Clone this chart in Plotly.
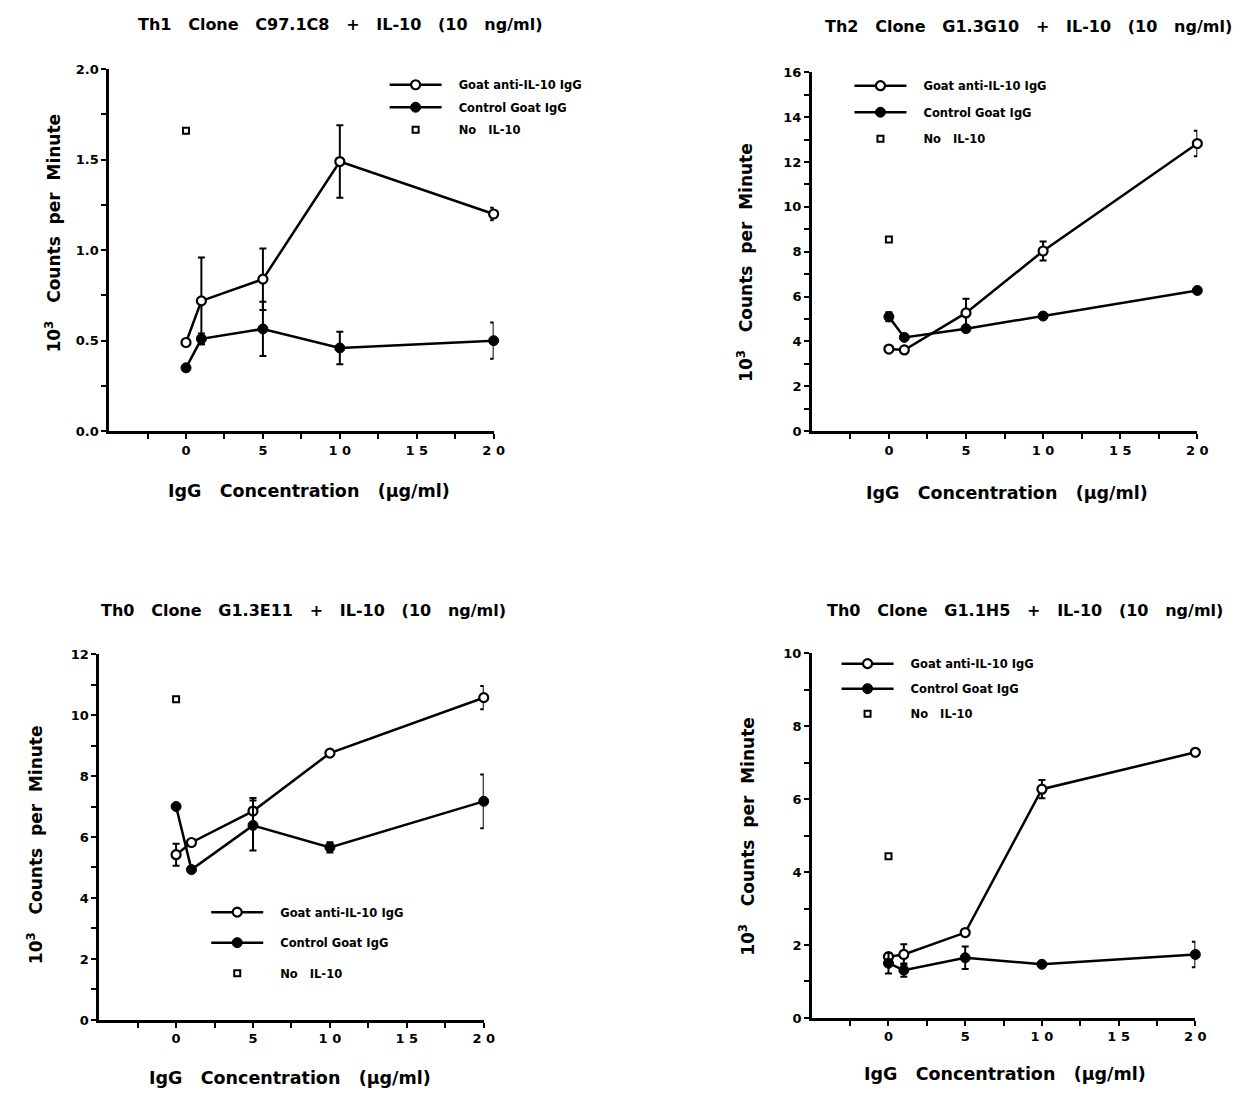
import plotly.graph_objects as go

W, H = 1252, 1103
BODY = 8  # default page margin of the html body
FW, FH = W - 2 * BODY, H - 2 * BODY  # figure size so that the page fits the window exactly

# ---------------- data ----------------
dose = [0, 1, 5, 10, 20]
no_il10_dose = [0]

th1_anti = [0.49, 0.72, 0.84, 1.49, 1.20]
th1_anti_err = [0.0, 0.24, 0.17, 0.20, 0.035]
th1_ctrl = [0.35, 0.51, 0.565, 0.46, 0.50]
th1_ctrl_err = [0.0, 0.03, 0.15, 0.09, 0.10]
th1_noil10 = [1.66]

th2_anti = [3.66, 3.62, 5.27, 8.03, 12.82]
th2_anti_err = [0.0, 0.08, 0.63, 0.42, 0.57]
th2_ctrl = [5.10, 4.18, 4.57, 5.13, 6.27]
th2_ctrl_err = [0.2, 0.1, 0.08, 0.08, 0.05]
th2_noil10 = [8.54]

e11_anti = [5.42, 5.82, 6.85, 8.75, 10.57]
e11_anti_err = [0.36, 0.08, 0.43, 0.05, 0.38]
e11_ctrl = [7.00, 4.93, 6.38, 5.66, 7.17]
e11_ctrl_err = [0.05, 0.05, 0.82, 0.17, 0.88]
e11_noil10 = [10.52]

h5_anti = [1.68, 1.74, 2.34, 6.27, 7.28]
h5_anti_err = [0.1, 0.28, 0.05, 0.25, 0.05]
h5_ctrl = [1.50, 1.31, 1.65, 1.47, 1.74]
h5_ctrl_err = [0.28, 0.18, 0.31, 0.05, 0.35]
h5_noil10 = [4.43]

titles = [
    "Th1   Clone   C97.1C8   +   IL-10   (10   ng/ml)",
    "Th2   Clone   G1.3G10   +   IL-10   (10   ng/ml)",
    "Th0   Clone   G1.3E11   +   IL-10   (10   ng/ml)",
    "Th0   Clone   G1.1H5   +   IL-10   (10   ng/ml)",
]
series_names = ["Goat anti-IL-10 IgG", "Control Goat IgG", "No   IL-10"]
x_title = "IgG   Concentration   (µg/ml)"
y_title = "10<sup>3</sup>   Counts  per  Minute"

x_tickvals = [-2.5, 0, 2.5, 5, 7.5, 10, 12.5, 15, 17.5, 20]
x_ticktext = ["", "0", "", "5", "", "1 0", "", "1 5", "", "2 0"]

y1_tickvals = [0, 0.25, 0.5, 0.75, 1.0, 1.25, 1.5, 1.75, 2.0]
y1_ticktext = ["0.0", "", "0.5", "", "1.0", "", "1.5", "", "2.0"]
y2_tickvals = list(range(0, 17))
y2_ticktext = [str(v) if v % 2 == 0 else "" for v in y2_tickvals]
y3_tickvals = list(range(0, 13))
y3_ticktext = [str(v) if v % 2 == 0 else "" for v in y3_tickvals]
y4_tickvals = list(range(0, 11))
y4_ticktext = [str(v) if v % 2 == 0 else "" for v in y4_tickvals]

# ---------------- layout geometry (page pixels) ----------------
panels = [
    dict(anti=th1_anti, anti_err=th1_anti_err, ctrl=th1_ctrl, ctrl_err=th1_ctrl_err, no=th1_noil10,
         yr=[0, 2.0], ytv=y1_tickvals, ytt=y1_ticktext,
         box=(110, 498, 63, 430), title=(343, 18), xt=(312, 491), yt=(53, 229),
         leg=(388, 64), gap=3.5),
    dict(anti=th2_anti, anti_err=th2_anti_err, ctrl=th2_ctrl, ctrl_err=th2_ctrl_err, no=th2_noil10,
         yr=[0, 16], ytv=y2_tickvals, ytt=y2_ticktext,
         box=(819, 1208, 66, 430), title=(1038, 20), xt=(1016, 493), yt=(751, 259),
         leg=(857, 65), gap=7.5),
    dict(anti=e11_anti, anti_err=e11_anti_err, ctrl=e11_ctrl, ctrl_err=e11_ctrl_err, no=e11_noil10,
         yr=[0, 12], ytv=y3_tickvals, ytt=y3_ticktext,
         box=(100, 488, 656, 1027), title=(306, 612), xt=(293, 1086), yt=(36, 849),
         leg=(208, 903), gap=11.5),
    dict(anti=h5_anti, anti_err=h5_anti_err, ctrl=h5_ctrl, ctrl_err=h5_ctrl_err, no=h5_noil10,
         yr=[0, 10], ytv=y4_tickvals, ytt=y4_ticktext,
         box=(819, 1206, 655, 1025), title=(1034, 612), xt=(1014, 1082), yt=(753, 841),
         leg=(844, 651), gap=6),
]

FONT = "DejaVu Sans, Liberation Sans, Arial, sans-serif"


def nb(s):
    return s.replace(" ", "\u00a0")


def fx(p):
    return (p - BODY) / FW


def fy(p):
    return 1 - (p - BODY) / FH


fig = go.Figure()
annotations = []
layout = {}

for i, p in enumerate(panels, start=1):
    xa = "x" if i == 1 else f"x{i}"
    ya = "y" if i == 1 else f"y{i}"
    lg = "legend" if i == 1 else f"legend{i}"
    x0, x1, y0, y1 = p["box"]

    common_line = dict(color="black", width=2.5)
    err_style = dict(type="data", symmetric=True, color="black", thickness=2, width=3.5)

    fig.add_trace(go.Scatter(
        x=dose, y=p["anti"], mode="lines+markers", name="\u00a0\u00a0\u00a0" + nb(series_names[0]),
        xaxis=xa, yaxis=ya, legend=lg, legendgroup=f"a{i}",
        line=common_line,
        marker=dict(symbol="circle", size=9, color="white", line=dict(color="black", width=2.2)),
        error_y=dict(array=p["anti_err"], **err_style),
        cliponaxis=False,
    ))
    fig.add_trace(go.Scatter(
        x=dose, y=p["ctrl"], mode="lines+markers", name="\u00a0\u00a0\u00a0" + nb(series_names[1]),
        xaxis=xa, yaxis=ya, legend=lg, legendgroup=f"c{i}",
        line=common_line,
        marker=dict(symbol="circle", size=10, color="black", line=dict(color="black", width=1)),
        error_y=dict(array=p["ctrl_err"], **err_style),
        cliponaxis=False,
    ))
    fig.add_trace(go.Scatter(
        x=no_il10_dose, y=p["no"], mode="markers", name="\u00a0\u00a0\u00a0" + nb(series_names[2]),
        xaxis=xa, yaxis=ya, legend=lg, legendgroup=f"n{i}",
        marker=dict(symbol="square", size=6, color="white", line=dict(color="black", width=2)),
        cliponaxis=False,
    ))

    axis_common = dict(
        showline=True, linecolor="black", linewidth=2.5, showgrid=False, zeroline=False,
        ticks="outside", ticklen=5, tickwidth=2, tickcolor="black",
        tickfont=dict(family=FONT, size=13, color="black", weight="bold"),
        tickmode="array", fixedrange=True,
    )
    layout["xaxis" if i == 1 else f"xaxis{i}"] = dict(
        axis_common, domain=[fx(x0), fx(x1)], range=[-5, 20],
        tickvals=x_tickvals, ticktext=[nb(t) for t in x_ticktext], anchor=ya, ticklabelstandoff=0,
    )
    layout["yaxis" if i == 1 else f"yaxis{i}"] = dict(
        axis_common, domain=[fy(y1), fy(y0)], range=p["yr"],
        tickvals=p["ytv"], ticktext=p["ytt"], anchor=xa,
    )
    layout[lg] = dict(
        x=fx(p["leg"][0]), y=fy(p["leg"][1]), xanchor="left", yanchor="top",
        bgcolor="rgba(0,0,0,0)", borderwidth=0, itemwidth=52,
        font=dict(family=FONT, size=11.5, color="black", weight="bold"),
        traceorder="grouped", tracegroupgap=p["gap"], itemclick=False, itemdoubleclick=False,
    )

    annotations.append(dict(
        text=nb(titles[i - 1]), x=fx(p["title"][0]), y=fy(p["title"][1]),
        xref="paper", yref="paper", xanchor="center", yanchor="middle", showarrow=False,
        font=dict(family=FONT, size=16, color="black", weight="bold"),
    ))
    annotations.append(dict(
        text=nb(x_title), x=fx(p["xt"][0]), y=fy(p["xt"][1]),
        xref="paper", yref="paper", xanchor="center", yanchor="middle", showarrow=False,
        font=dict(family=FONT, size=17.5, color="black", weight="bold"),
    ))
    annotations.append(dict(
        text=nb(y_title), x=fx(p["yt"][0]), y=fy(p["yt"][1]), textangle=-90,
        xref="paper", yref="paper", xanchor="center", yanchor="middle", showarrow=False,
        font=dict(family=FONT, size=17, color="black", weight="bold"),
    ))

fig.update_layout(
    width=FW, height=FH, margin=dict(l=0, r=0, t=0, b=0),
    paper_bgcolor="white", plot_bgcolor="white",
    showlegend=True, annotations=annotations,
    **layout,
)

fig.write_html("out.html")
